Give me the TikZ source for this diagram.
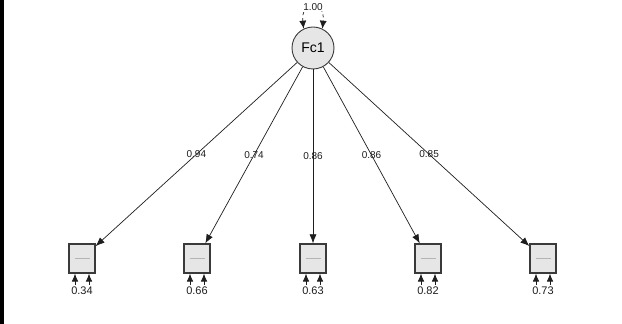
\documentclass[tikz,border=0pt]{standalone}
\usepackage{fontspec}
\setmainfont{Liberation Sans}
\usetikzlibrary{arrows.meta,positioning,calc}
\definecolor{ink}{HTML}{1E1E1E}
\definecolor{edge}{HTML}{3A3A3A}
\definecolor{shade}{HTML}{E6E6E6}
\definecolor{faint}{HTML}{B4B4B4}

\tikzset{
  latent/.style={circle,draw=edge,fill=shade,line width=0.9pt,minimum size=42pt,
                 inner sep=0pt,font=\fontsize{14}{16}\selectfont},
  manifest/.style={rectangle,draw=edge,fill=shade,line width=1.2pt,minimum width=26pt,
                   minimum height=29pt,inner sep=0pt},
  path/.style={draw=ink,line width=0.7pt,-{Latex[length=9pt,width=7pt]}},
  loading/.style={font=\fontsize{10}{12}\selectfont,inner sep=1pt,text=ink},
  resid/.style={font=\fontsize{11}{13}\selectfont,inner sep=0pt,text=ink}
}

\begin{document}
\begin{tikzpicture}[x=1pt,y=1pt]
  \clip (0,0) rectangle (622,324);
  \fill[white] (0,0) rectangle (622,324);
  \fill[black] (0,0) rectangle (4,324);

  \node[latent] (fc1) at (313,276) {Fc1};

  % variance of the factor
  \draw[path,{Latex[length=8pt,width=7pt]}-{Latex[length=8pt,width=7pt]},dashed]
    (fc1.116) .. controls +(96:29) and +(84:29) .. (fc1.64)
    node[pos=0.5,loading,fill=white,inner sep=0.5pt] {1.00};

  % indicators, loadings and residuals
  \foreach \i/\x/\lam/\res in {1/82/0.94/0.34, 2/197/0.74/0.66, 3/313/0.86/0.63,
                                4/428/0.86/0.82, 5/543/0.85/0.73} {
    \node[manifest] (ind\i) at (\x,65.5) {\color{faint}\rule[-0.3pt]{15pt}{0.7pt}};
    \draw[path] (fc1) -- (ind\i) node[pos=0.5,loading] {\lam};
    \coordinate (e\i a) at ($(ind\i.south)+(-7,-11)$);
    \coordinate (e\i b) at ($(ind\i.south)+(7,-11)$);
    \draw[path,-{Latex[length=8pt,width=6.5pt]}] (e\i a) -- (e\i a |- ind\i.south);
    \draw[path,-{Latex[length=8pt,width=6.5pt]}] (e\i b) -- (e\i b |- ind\i.south);
    \node[resid] (r\i) at ($(ind\i.south)+(0,-17)$) {\res};
  }
\end{tikzpicture}
\end{document}
